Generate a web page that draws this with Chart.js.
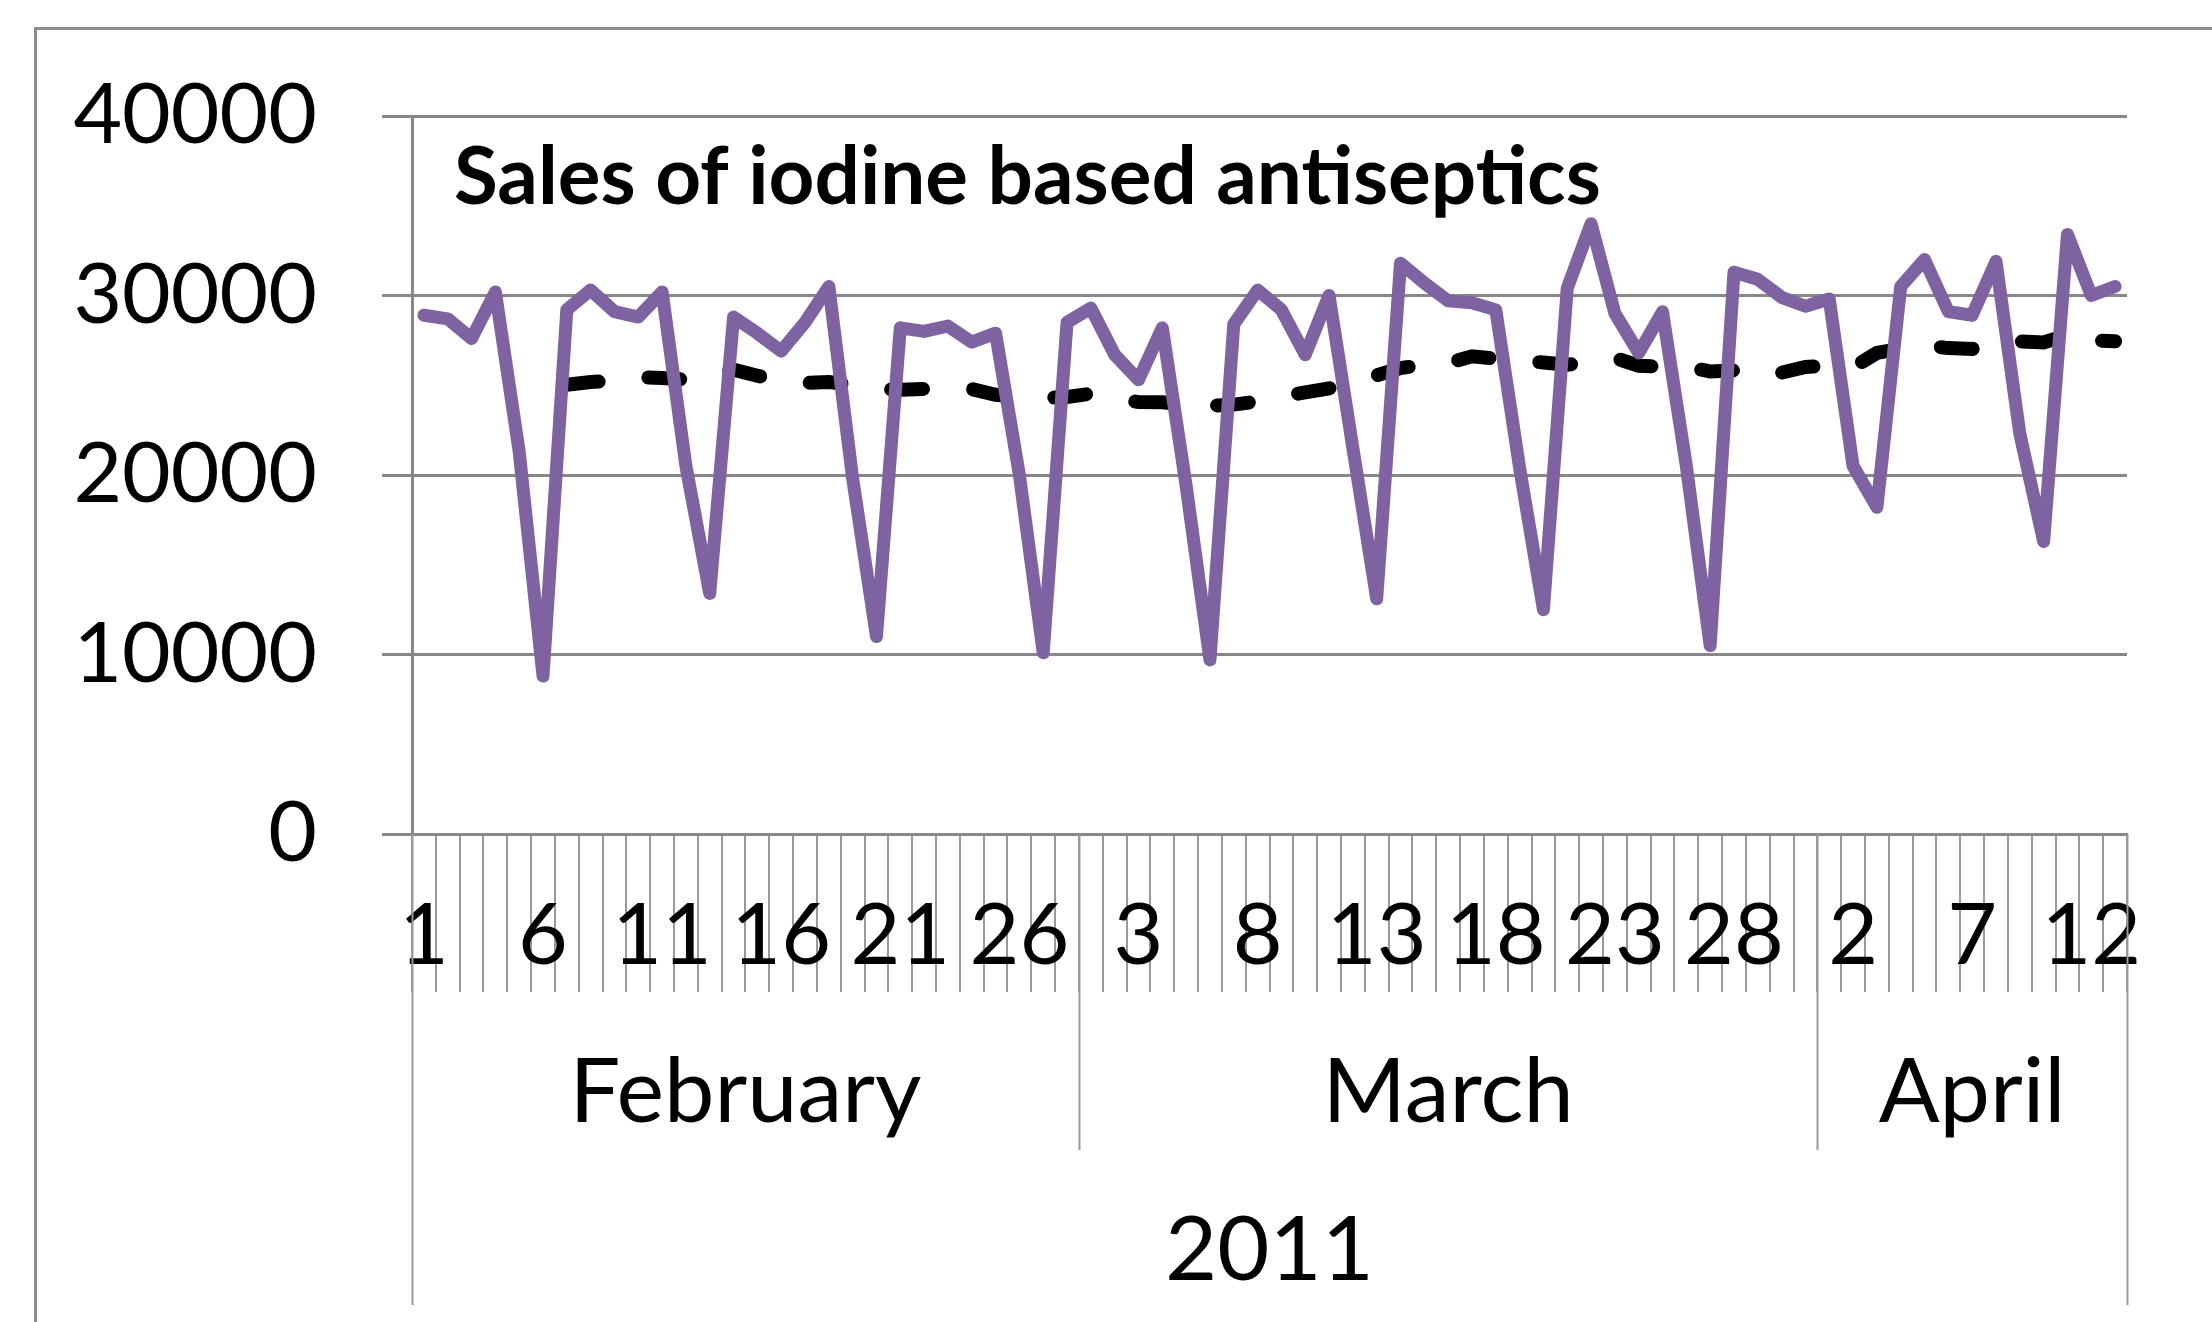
<!DOCTYPE html>
<html>
<head>
<meta charset="utf-8">
<script src="https://cdn.jsdelivr.net/npm/chart.js@4.4.1/dist/chart.umd.min.js"></script>
<style>
  html, body { margin: 0; padding: 0; background: #ffffff; }
  #wrap { position: relative; width: 2212px; height: 1322px; overflow: hidden; }
  #frame { position: absolute; left: 34px; top: 27px; width: 2400px; height: 1500px; border: 3px solid #8c8c8c; }
  #chart { position: absolute; left: 0; top: 0; }
</style>
</head>
<body>
<div id="wrap">
  <div id="frame"></div>
  <canvas id="chart" width="2212" height="1322"></canvas>
</div>
<script>
// Categorias: meses y dias (febrero 1 - abril 13, 2011)
const monthNames = ['February', 'March', 'April'];
const monthLengths = [28, 31, 13];
const yearLabel = '2011';
const chartTitle = 'Sales of iodine based antiseptics';

// Eje Y
const yMin = 0;
const yMax = 40000;
const yStep = 10000;

// Ventas diarias
const sales = [
  28900, 28700, 27600, 30200, 21300, 8800, 29200,
  30300, 29100, 28800, 30200, 20500, 13400, 28800,
  27900, 26900, 28500, 30500, 19800, 11000, 28200,
  28000, 28300, 27400, 27900, 20000, 10100, 28500,
  29300, 26700, 25300, 28200, 19400, 9700, 28400,
  30300, 29200, 26700, 30000, 21500, 13100, 31800,
  30700, 29700, 29600, 29200, 20400, 12500, 30400,
  34000, 29000, 26800, 29100, 20500, 10500, 31300,
  30900, 29900, 29400, 29800, 20500, 18200, 30500,
  32000, 29100, 28900, 31900, 22300, 16300, 33400,
  30000, 30500
];

// Media movil de 7 dias (linea discontinua)
const movingAvg = [
  null, null, null, null, null, null, 25030,
  25180, 25250, 25460, 25400, 25310, 25680, 25870,
  25530, 25220, 25130, 25180, 25030, 24790, 24750,
  24790, 24790, 24790, 24470, 24350, 24290, 24350,
  24530, 24200, 24070, 24050, 23920, 23860, 23920,
  24100, 24380, 24600, 24830, 25220, 25550, 25960,
  26140, 26240, 26610, 26480, 26370, 26270, 26140,
  26330, 26520, 26090, 26020, 26020, 25770, 25830,
  25530, 25700, 26020, 26090, 26000, 26800, 27030,
  27220, 27070, 27020, 27350, 27440, 27380, 27810,
  27500, 27450
];

// Etiquetas de dia construidas a partir de los meses
const dayLabels = [];
const monthStarts = [];
monthLengths.forEach(len => {
    monthStarts.push(dayLabels.length);
    for (let d = 1; d <= len; d++) dayLabels.push(String(d));
});

const FONT = 'Lato';
const GRID = '#888888';

// Plugin: titulo dentro del area y etiquetas de mes / ano
const extraLabels = {
    id: 'extraLabels',
    afterDraw(chart) {
        const ctx = chart.ctx;
        const x = chart.scales.x;
        const area = chart.chartArea;
        const n = dayLabels.length;
        const edge = i => {
            if (i <= 0) return x.left;
            if (i >= n) return x.right;
            return (x.getPixelForValue(i - 1) + x.getPixelForValue(i)) / 2;
        };

        ctx.save();
        // separadores de mes y ano
        ctx.strokeStyle = '#999999';
        ctx.lineWidth = 2;
        const bounds = monthStarts.concat([n]);
        bounds.forEach(i => {
            const px = Math.round(edge(i)) + 0.5;
            const bottom = (i === 0 || i === n) ? 1305 : 1150;
            ctx.beginPath();
            ctx.moveTo(px, x.top);
            ctx.lineTo(px, bottom);
            ctx.stroke();
        });

        ctx.fillStyle = '#000000';
        ctx.textAlign = 'center';
        ctx.textBaseline = 'middle';
        ctx.font = '90px ' + FONT;
        monthNames.forEach((m, k) => {
            const cx = (edge(bounds[k]) + edge(bounds[k + 1])) / 2;
            ctx.fillText(m, cx, 1093);
        });
        ctx.fillText(yearLabel, (edge(0) + edge(n)) / 2, 1251);

        // titulo
        ctx.textAlign = 'left';
        ctx.textBaseline = 'alphabetic';
        ctx.font = 'bold 80px ' + FONT;
        ctx.fillText(chartTitle, area.left + 42, area.top + 88);
        ctx.restore();
    }
};

new Chart(document.getElementById('chart'), {
    type: 'line',
    data: {
        labels: dayLabels,
        datasets: [
            {
                label: 'Sales',
                data: sales,
                borderColor: '#7f62a1',
                borderWidth: 13,
                pointRadius: 0,
                tension: 0,
                borderJoinStyle: 'round',
                borderCapStyle: 'round',
                fill: false
            },
            {
                label: '7 per. Mov. Avg.',
                data: movingAvg,
                borderColor: '#000000',
                borderWidth: 14,
                borderDash: [32, 50],
                borderCapStyle: 'round',
                pointRadius: 0,
                tension: 0,
                fill: false
            }
        ]
    },
    options: {
        responsive: false,
        animation: false,
        devicePixelRatio: 1,
        layout: { padding: { left: 0, top: 116, right: 85, bottom: 0 } },
        plugins: {
            legend: { display: false },
            tooltip: { enabled: false },
            title: { display: false }
        },
        scales: {
            x: {
                type: 'category',
                offset: true,
                grid: {
                    display: true,
                    offset: true,
                    drawOnChartArea: false,
                    drawTicks: true,
                    tickLength: 158,
                    color: '#999999',
                    lineWidth: 2
                },
                border: { display: true, color: GRID, width: 3 },
                ticks: {
                    autoSkip: false,
                    maxRotation: 0,
                    minRotation: 0,
                    padding: -107,
                    color: '#000000',
                    font: { family: FONT, size: 86 },
                    callback: (val, idx) => idx % 5 === 0 ? dayLabels[idx] : ''
                },
                afterFit: s => { s.height = 1322 - 834; }
            },
            y: {
                min: yMin,
                max: yMax,
                grid: {
                    color: GRID,
                    lineWidth: 3,
                    tickLength: 30
                },
                border: { display: true, color: GRID, width: 3 },
                ticks: {
                    stepSize: yStep,
                    padding: 65,
                    color: '#000000',
                    font: { family: FONT, size: 84 },
                    callback: v => String(v)
                },
                afterFit: s => { s.width = 412; }
            }
        }
    },
    plugins: [extraLabels]
});
</script>
</body>
</html>
